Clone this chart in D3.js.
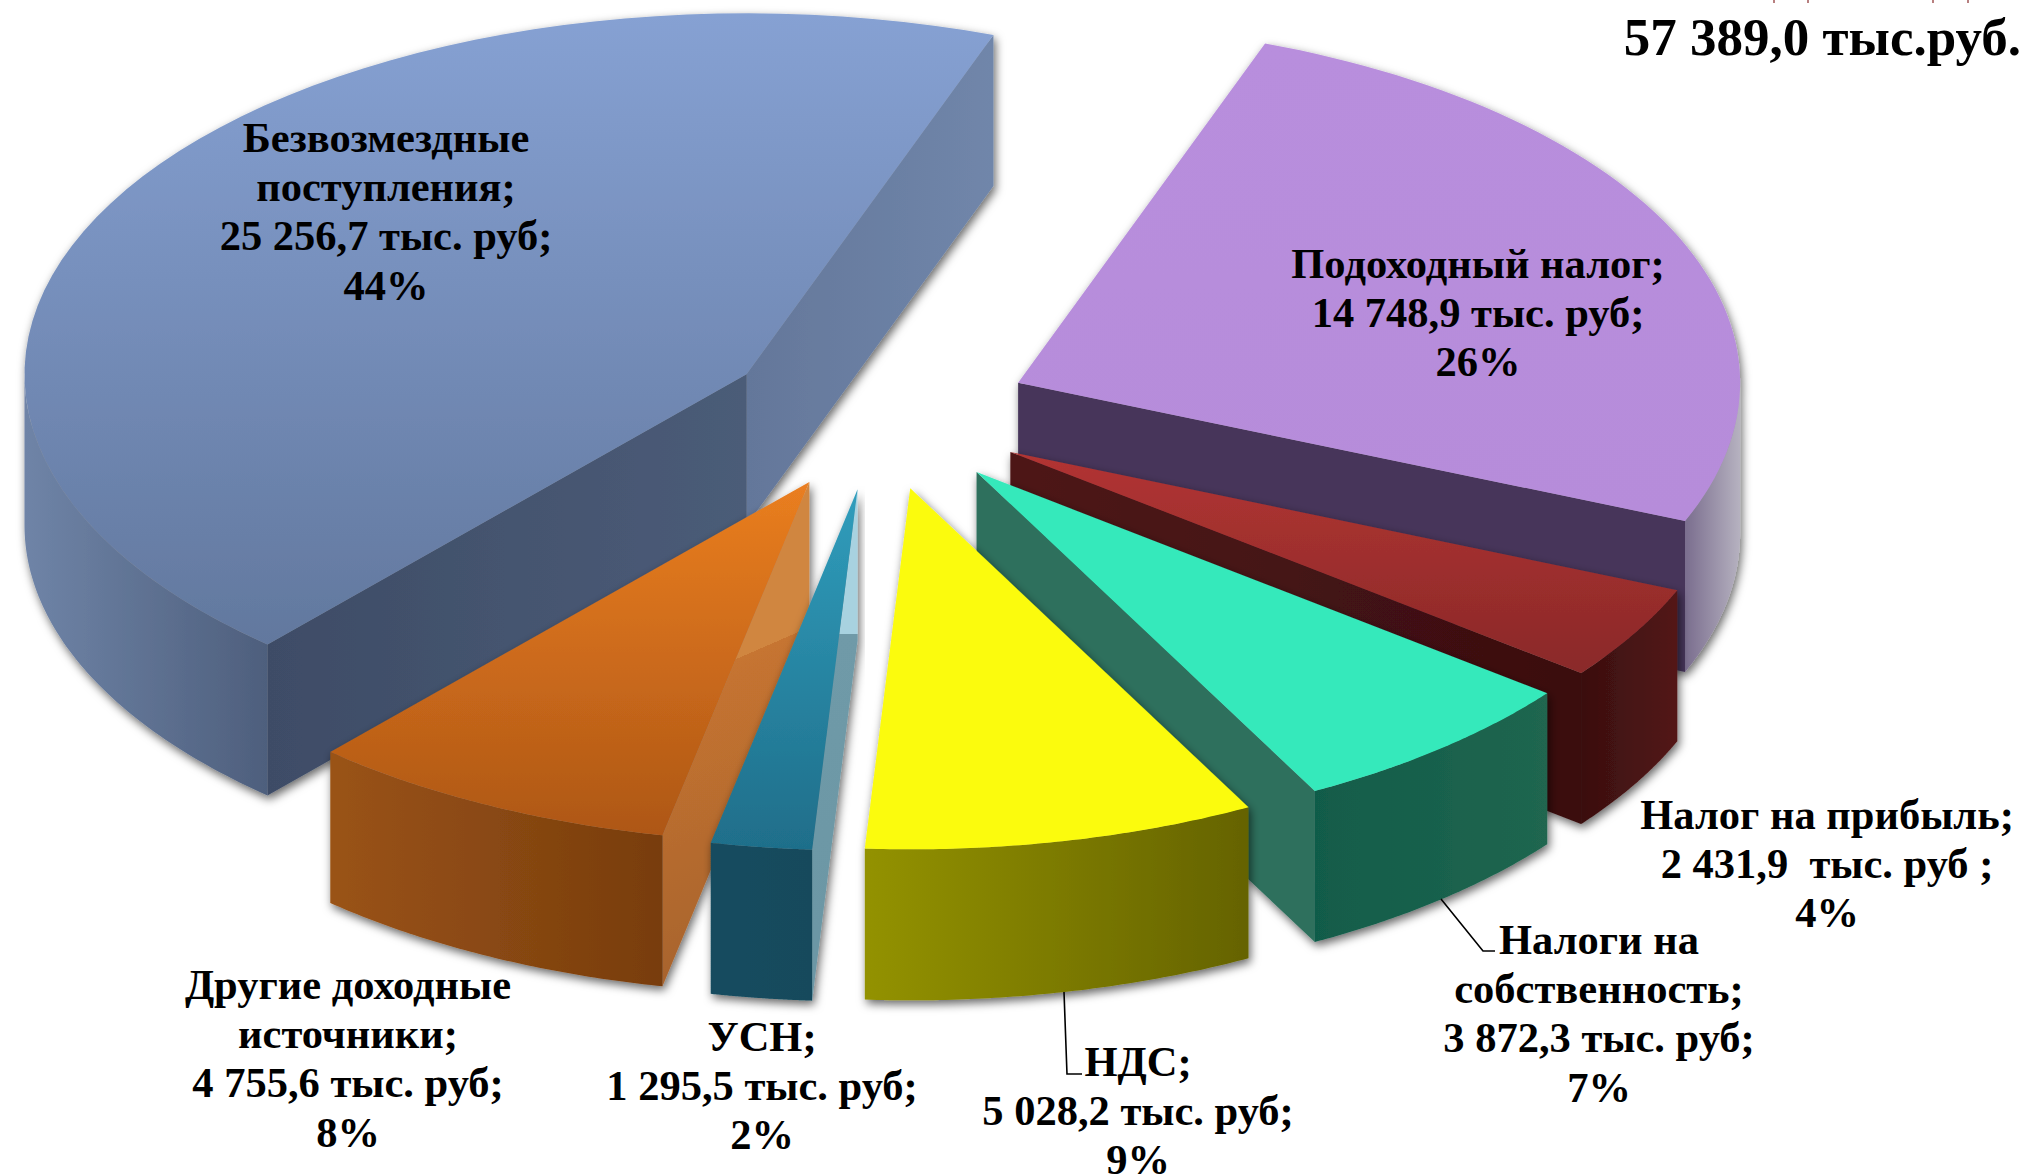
<!DOCTYPE html>
<html lang="ru">
<head>
<meta charset="utf-8">
<script src="https://cdn.jsdelivr.net/npm/d3@7/dist/d3.min.js"></script>
<style>
html,body{margin:0;padding:0;background:#fff;overflow:hidden}
svg{display:block}
text{font-family:"Liberation Serif",serif;font-weight:700;fill:#000}
</style>
</head>
<body>
<svg id="chart" width="2020" height="1176"></svg>
<script>
// ---- data ----
const categories = ["Подоходный налог","Налог на прибыль","Налоги на собственность","НДС","УСН","Другие доходные источники","Безвозмездные поступления"];
const values = [14748.9, 2431.9, 3872.3, 5028.2, 1295.5, 4755.6, 25256.7];
const percents = [26, 4, 7, 9, 2, 8, 44];
const totalLabel = "57 389,0 тыс.руб.";
const labelLines = [
  ["Подоходный налог;","14 748,9 тыс. руб;","26%"],
  ["Налог на прибыль;","2 431,9  тыс. руб ;","4%"],
  ["Налоги на","собственность;","3 872,3 тыс. руб;","7%"],
  ["НДС;","5 028,2 тыс. руб;","9%"],
  ["УСН;","1 295,5 тыс. руб;","2%"],
  ["Другие доходные","источники;","4 755,6 тыс. руб;","8%"],
  ["Безвозмездные","поступления;","25 256,7 тыс. руб;","44%"]
];

// ---- layout and style ----
const cx = 878, cy = 413.5, R = 722, tilt = 0.5, depth = 151, explode = 0.212, startDeg = 20.0;
const labelAnchors = [[1478,278],[1827,829],[1599,954],[1138,1076],[762,1051],[348,999],[386,152]];
const lineStep = 49.2, fontSize = 42.5;
const leaders = {2:[[1441,899],[1483,951],[1495,951]], 3:[[1064,992],[1067,1074],[1082,1074]]};
const styles = [
  {top:["#B88EDD","#B68CDA"],end:["#47355A","#47355A"],rim:["#7A6D8E","#B6B2C0"]},
  {top:["#B23432","#8A2929"],end:["#4E1616","#3A0F10"],rim:["#3A0F0F","#531717"]},
  {top:["#36E9BB","#36E9BB"],end:["#2E705D","#2E705D"],rim:["#115C4A","#20664F"]},
  {top:["#FBFB0A","#FBFB0A"],end:["#666600","#666600"],rim:["#939200","#656300"]},
  {top:["#309DBC","#1F6E8A"],rim:["#154C5F","#154A5C"],
   split:{from:[850,634],to:[850,934],stops:["#A8D2E0","#6F9AA8","#6C97A5"]}},
  {top:["#EA7E20","#AE5716"],rim:["#9A5316","#783D0E"],
   split:{from:[734,660],to:[854,936],stops:["#D08640","#C67430","#A5622E"]}},
  {top:["#86A1D3","#62789E"],start:["#3E4C66","#4B5C78"],end:["#64779A","#7086AA"],rim:["#6F84A7","#4E5F7D"]}
];
const drawOrder = [6,0,1,2,3,5,4];

const svg = d3.select("#chart");
const defs = svg.append("defs");
const fl = defs.append("filter").attr("id","soft").attr("x","-5%").attr("y","-5%").attr("width","110%").attr("height","112%");
fl.append("feDropShadow").attr("dx",2).attr("dy",4).attr("stdDeviation",5).attr("flood-color","#000").attr("flood-opacity",.6);

function grad(id, cols, vertical){
  const g = defs.append("linearGradient").attr("id",id)
    .attr("x1",0).attr("y1",0).attr("x2",vertical?0:1).attr("y2",vertical?1:0);
  g.append("stop").attr("offset",0).attr("stop-color",cols[0]);
  g.append("stop").attr("offset",1).attr("stop-color",cols[1]);
  return `url(#${id})`;
}
function splitGrad(id, sp){
  const g = defs.append("linearGradient").attr("id",id).attr("gradientUnits","userSpaceOnUse")
    .attr("x1",sp.from[0]).attr("y1",sp.from[1]).attr("x2",sp.to[0]).attr("y2",sp.to[1]);
  [[0,0],[0,1],[1,2]].forEach(([o,c])=>{
    g.append("stop").attr("offset",o).attr("stop-color",sp.stops[c]);
  });
  return `url(#${id})`;
}

const x = d3.scaleLinear().domain([-1,1]).range([cx-R,cx+R]);
const y = d3.scaleLinear().domain([-1,1]).range([cy-R*tilt,cy+R*tilt]);
const start = startDeg*Math.PI/180;
const arcs = d3.pie().sort(null).startAngle(start).endAngle(start+2*Math.PI)(values);
const line = d3.line();

function project(d){
  const mid = (d.startAngle+d.endAngle)/2;
  const ox = explode*Math.sin(mid), oy = -explode*Math.cos(mid);
  return (a,r,z=0)=>[x(ox+r*Math.sin(a)), y(oy-r*Math.cos(a))+z];
}
const arcAngles = (a0,a1)=>d3.range(0,65).map(i=>a0+(a1-a0)*i/64);

drawOrder.forEach(i=>{
  const d = arcs[i], s = styles[i], P = project(d);
  const a0 = d.startAngle, a1 = d.endAngle;
  const g = svg.append("g").attr("filter","url(#soft)").attr("class","slice");
  const wallPts = a=>[P(a,0),P(a,1),P(a,1,depth),P(a,0,depth)];

  // radial wall closing the slice at its end angle (seen when it faces the viewer)
  if (-Math.cos(a1+Math.PI/2)>0 && s.end) {
    g.append("path").attr("d",line(wallPts(a1))+"Z").attr("fill",grad("we"+i,s.end));
  }
  // radial wall at the start angle
  if (-Math.cos(a0-Math.PI/2)>0) {
    if (s.split) g.append("path").attr("d",line(wallPts(a0))+"Z").attr("fill",splitGrad("sp"+i,s.split));
    else if (s.start) g.append("path").attr("d",line(wallPts(a0))+"Z").attr("fill",grad("ws"+i,s.start));
  }
  // outer wall, only the part on the near side
  const lo = Math.max(a0,Math.PI/2), hi = Math.min(a1,1.5*Math.PI);
  if (hi>lo) {
    const as = arcAngles(lo,hi);
    const pts = as.map(a=>P(a,1)).concat(as.slice().reverse().map(a=>P(a,1,depth)));
    g.append("path").attr("d",line(pts)+"Z").attr("fill",grad("r"+i,s.rim));
  }
  // top face
  const topPts = [P(a0,0)].concat(arcAngles(a0,a1).map(a=>P(a,1)));
  g.append("path").attr("d",line(topPts)+"Z").attr("fill",grad("t"+i,s.top,true));
});

// leader lines
Object.values(leaders).forEach(pts=>{
  svg.append("path").attr("d",line(pts)).attr("fill","none").attr("stroke","#000").attr("stroke-width",1.6);
});

// labels
labelLines.forEach((lines,i)=>{
  const t = svg.append("text").attr("class","label").attr("font-size",fontSize).attr("text-anchor","middle");
  lines.forEach((ln,j)=>{
    t.append("tspan").attr("x",labelAnchors[i][0]).attr("y",labelAnchors[i][1]+j*lineStep)
     .style("white-space","pre").text(ln);
  });
});

svg.append("text").attr("x",2021).attr("y",55).attr("text-anchor","end").attr("font-size",53).text(totalLabel);

// cut-off heading at the very top edge
[1774,1808,1933,1968].forEach(px=>{
  svg.append("line").attr("x1",px).attr("x2",px).attr("y1",0).attr("y2",3).attr("stroke","#9A4A4A").attr("stroke-width",1.4);
});
</script>
</body>
</html>
